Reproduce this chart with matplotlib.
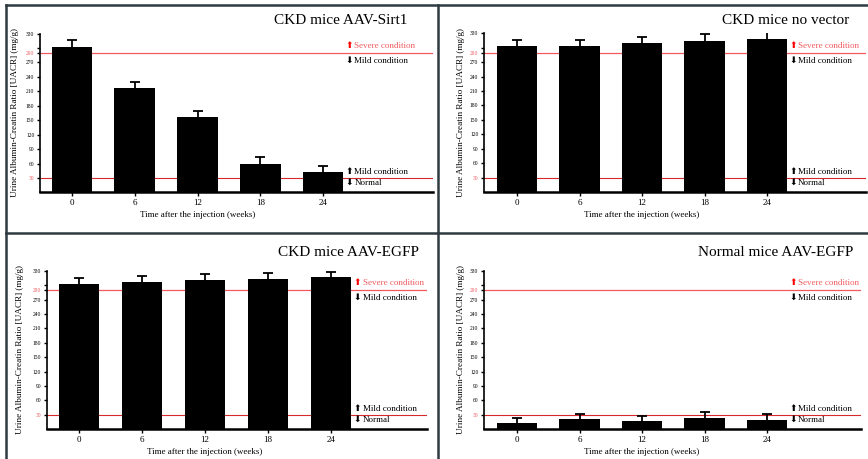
import matplotlib
matplotlib.use('Agg')
import matplotlib.pyplot as plt
from matplotlib.lines import Line2D

plt.rcParams['font.family'] = ['Liberation Serif', 'DejaVu Sans']

weeks = ['0', '6', '12', '18', '24']

titles = ['CKD mice AAV-Sirt1', 'CKD mice no vector',
          'CKD mice AAV-EGFP', 'Normal mice AAV-EGFP']

sirt1_mean = [303, 217, 156, 60, 42]
sirt1_err = [13, 13, 13, 13, 13]
novec_mean = [303, 304, 310, 315, 319]
novec_err = [13, 13, 13, 14, 14]
egfp_mean = [303, 307, 310, 313, 316]
egfp_err = [12, 12, 13, 13, 12]
normal_mean = [14, 21, 17, 23, 20]
normal_err = [10, 11, 11, 12, 12]

means = [sirt1_mean, novec_mean, egfp_mean, normal_mean]
errs = [sirt1_err, novec_err, egfp_err, normal_err]

severe_level = 290
mild_level = 30

ylabel = 'Urine Albumin-Creatin Ratio [UACR] (mg/g)'
xlabel = 'Time after the injection (weeks)'

W, H = 868, 459
fig = plt.figure(figsize=(W / 100, H / 100), dpi=100)

# pixel layout of each panel: spine x, right end, y of 330, y of 0, first bar centre, bar spacing
layout = [
    (40, 433, 33.5, 192.4, 72, 62.75),
    (484, 866, 33.3, 192.0, 517, 62.5),
    (46.7, 427, 270.7, 429.3, 79, 63.0),
    (484, 861, 270.7, 429.3, 517, 62.5),
]
title_pos = [(407, 20), (849, 20), (419, 252.7), (853, 252.7)]
ylabel_x = [15, 461, 20, 461]

red = '#f05a5f'

for k in range(4):
    left, right, top, bottom, c0, sp = layout[k]
    ax = fig.add_axes([left / W, 1 - bottom / H, (right - left) / W, (bottom - top) / H])
    x = list(range(len(weeks)))
    tops = [m + e for m, e in zip(means[k], errs[k])]
    ax.bar(x, means[k], width=0.65, color='black', zorder=2)
    ax.vlines(x, means[k], tops, color='black', lw=1.3, zorder=3)
    ax.plot(x, tops, ls='none', marker='_', ms=7, mew=1.3, color='black', zorder=3)
    ax.set_xlim(-(c0 - left) / sp, (right - c0) / sp)
    ax.set_ylim(0, 330)

    ax.axhline(severe_level, color=red, lw=0.9, zorder=1)
    ax.axhline(mild_level, color='#d8282e', lw=0.8, zorder=1)

    ticks = [30, 60, 90, 120, 150, 180, 210, 240, 270, 290, 300, 330]
    labels = ['30', '60', '90', '120', '150', '180', '210', '240', '270', '290', '', '330']
    ax.set_yticks(ticks)
    ax.set_yticklabels(labels, fontsize=4)
    for t in ax.get_yticklabels():
        if t.get_text() in ('30', '290'):
            t.set_color(red)
    ax.tick_params(axis='y', length=2.5, width=1, pad=1.5)
    ax.set_xticks(x)
    ax.set_xticklabels(weeks, fontsize=6.5)
    ax.tick_params(axis='x', length=3, width=1, pad=2)

    for s in ['top', 'right']:
        ax.spines[s].set_visible(False)
    ax.spines['left'].set_linewidth(1.2)
    ax.spines['bottom'].set_linewidth(1.8)
    ax.patch.set_alpha(0)

    tx = 4.36
    ax.text(tx, 304, '\u2b06', color='red', fontsize=6.5, va='center', ha='left')
    ax.text(tx + 0.14, 304, 'Severe condition', color=red, fontsize=6.5, va='center', ha='left')
    ax.text(tx, 273, '\u2b07', color='black', fontsize=6.5, va='center', ha='left')
    ax.text(tx + 0.14, 273, 'Mild condition', color='black', fontsize=6.5, va='center', ha='left')
    ax.text(tx, 42, '\u2b06', color='black', fontsize=6.5, va='center', ha='left')
    ax.text(tx + 0.14, 42, 'Mild condition', color='black', fontsize=6.5, va='center', ha='left')
    ax.text(tx, 19, '\u2b07', color='black', fontsize=6.5, va='center', ha='left')
    ax.text(tx + 0.14, 19, 'Normal', color='black', fontsize=6.5, va='center', ha='left')

    fig.text(title_pos[k][0] / W, 1 - title_pos[k][1] / H, titles[k], fontsize=11,
             ha='right', va='center')
    fig.text(ylabel_x[k] / W, 1 - (top + bottom) / 2 / H, ylabel, fontsize=6.6,
             rotation=90, ha='center', va='center')
    fig.text((left + (c0 - left) + 2 * sp) / W, 1 - (bottom + 23) / H, xlabel,
             fontsize=6.5, ha='center', va='center')

# panel frame lines
frame = '#2e3a40'
fig.add_artist(Line2D([6 / W, 1], [1 - 5 / H, 1 - 5 / H], color=frame, lw=1.8))
fig.add_artist(Line2D([6 / W, 6 / W], [0, 1 - 5 / H], color=frame, lw=1.8))
fig.add_artist(Line2D([438 / W, 438 / W], [0, 1 - 5 / H], color=frame, lw=1.8))
fig.add_artist(Line2D([6 / W, 1], [1 - 233 / H, 1 - 233 / H], color=frame, lw=1.8))

fig.savefig('out.png', dpi=100)
